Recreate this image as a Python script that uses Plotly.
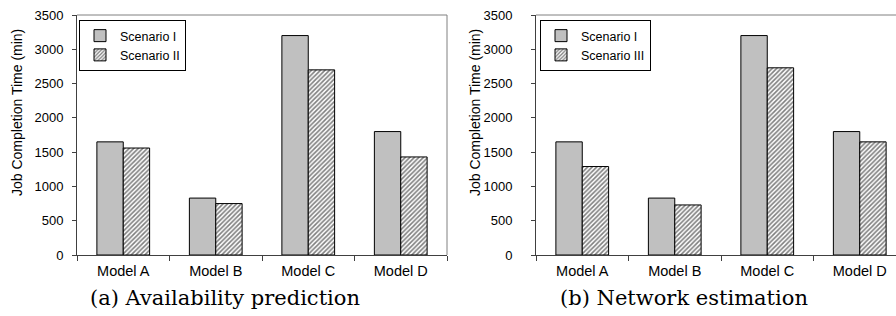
import plotly.graph_objects as go

models = ["Model A", "Model B", "Model C", "Model D"]
scen1_a = [1650, 830, 3200, 1800]
scen2_a = [1560, 750, 2700, 1430]
scen1_b = [1650, 830, 3200, 1800]
scen3_b = [1290, 730, 2730, 1650]
y_ticks = [0, 500, 1000, 1500, 2000, 2500, 3000, 3500]
caption_a = "(a) Availability prediction"
caption_b = "(b) Network estimation"
y_title = "Job Completion Time (min)"

W, H = 896, 316
FONT = "Liberation Sans, Arial, sans-serif"
GRAY = "#C0C0C0"
PLOT_TOP, PLOT_BOT = 15, 255
PH = PLOT_BOT - PLOT_TOP

fig = go.Figure()

def solid(name, y, xa, ya, legend):
    return go.Bar(x=models, y=y, name=name, xaxis=xa, yaxis=ya, legend=legend,
                  marker=dict(color=GRAY, line=dict(color="black", width=1)))

def hatched(name, y, xa, ya, legend):
    return go.Bar(x=models, y=y, name=name, xaxis=xa, yaxis=ya, legend=legend,
                  marker=dict(color="white", line=dict(color="black", width=1),
                              pattern=dict(shape="/", fgcolor="black", bgcolor="white",
                                           size=3.2, solidity=0.5)))

fig.add_trace(solid("Scenario I", scen1_a, "x", "y", "legend"))
fig.add_trace(hatched("Scenario II", scen2_a, "x", "y", "legend"))
fig.add_trace(solid("Scenario I", scen1_b, "x2", "y2", "legend2"))
fig.add_trace(hatched("Scenario III", scen3_b, "x2", "y2", "legend2"))

left_dom = [77 / W, 447 / W]
right_dom = [536 / W, 1.0]
cat_w = 92.5
right_max = 3.5 - (536 + 4 * cat_w - W) / cat_w

xcommon = dict(type="category", showgrid=False, showline=True, linecolor="#404040",
               linewidth=1, ticks="outside", ticklen=5, tickcolor="#404040",
               tickson="boundaries", tickfont=dict(family=FONT, size=14.5, color="black"),
               ticklabelstandoff=3, zeroline=False)
ycommon = dict(range=[0, 3500], tickvals=y_ticks, showgrid=False, showline=True,
               linecolor="#404040", linewidth=1, ticks="outside", ticklen=4,
               tickcolor="#404040", tickfont=dict(family=FONT, size=13, color="black"),
               zeroline=False)

legend_common = dict(xanchor="left", yanchor="top", bordercolor="black", borderwidth=1,
                     bgcolor="white", font=dict(family=FONT, size=12.5, color="black"),
                     tracegroupgap=0)

fig.update_layout(
    width=W, height=H,
    margin=dict(l=0, r=0, t=PLOT_TOP, b=H - PLOT_BOT),
    paper_bgcolor="white", plot_bgcolor="white",
    barmode="group", bargap=0.43, bargroupgap=0,
    xaxis=dict(domain=left_dom, anchor="y", range=[-0.5, 3.5], **xcommon),
    yaxis=dict(domain=[0, 1], anchor="x", ticklabelstandoff=6, **ycommon),
    xaxis2=dict(domain=right_dom, anchor="y2", range=[-0.5, right_max], **xcommon),
    yaxis2=dict(domain=[0, 1], anchor="x2", ticklabelstandoff=16, **ycommon),
    legend=dict(x=79 / W, y=(PLOT_BOT - 20) / PH, **legend_common),
    legend2=dict(x=540 / W, y=(PLOT_BOT - 20) / PH, **legend_common),
    showlegend=True,
)

# gray plot-area borders (top and right) like the spreadsheet original
for xr, yr, right in (("x", "y", True), ("x2", "y2", False)):
    fig.add_shape(type="line", xref=f"{xr} domain", yref=f"{yr} domain",
                  x0=0, x1=1, y0=1, y1=1, line=dict(color="#808080", width=1))
    if right:
        fig.add_shape(type="line", xref=f"{xr} domain", yref=f"{yr} domain",
                      x0=1, x1=1, y0=0, y1=1, line=dict(color="#808080", width=1))

# y-axis titles
for cx in (17 / W, 475 / W):
    fig.add_annotation(text=y_title, xref="paper", yref="paper", x=cx,
                       y=(PLOT_BOT - 113) / PH, xanchor="center", yanchor="middle",
                       textangle=-90, showarrow=False,
                       font=dict(family=FONT, size=14, color="black"))

# sub-captions
for text, cx in ((caption_a, 224.5 / W), (caption_b, 684 / W)):
    fig.add_annotation(text=text, xref="paper", yref="paper", x=cx,
                       y=-(298 - PLOT_BOT) / PH, xanchor="center", yanchor="middle",
                       showarrow=False,
                       font=dict(family="DejaVu Serif", size=21, color="black"))

fig.write_html("out.html", config={"displayModeBar": False},
               post_script="document.body.style.margin='0';")
